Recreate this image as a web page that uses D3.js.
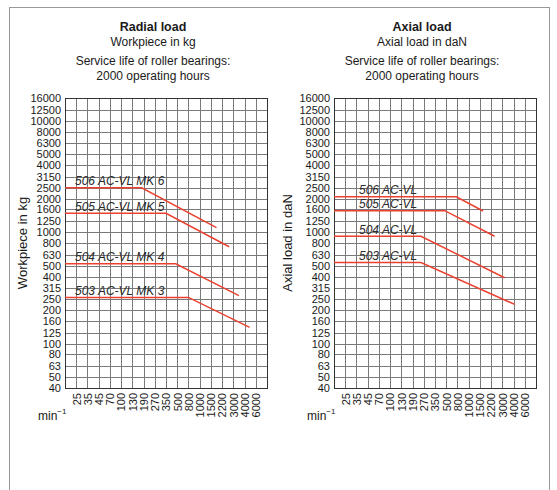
<!DOCTYPE html>
<html>
<head>
<meta charset="utf-8">
<script src="https://cdn.jsdelivr.net/npm/d3@7"></script>
<style>
  body { margin: 0; background: #fff; }
  svg { font-family: "Liberation Sans", Arial, sans-serif; }
</style>
</head>
<body>
<svg width="557" height="490"></svg>
<script>
// load ticks (R10 series) and speed ticks in min-1
const yTicks = [40, 50, 63, 80, 100, 125, 160, 200, 250, 315, 400, 500, 630, 800,
    1000, 1250, 1600, 2000, 2500, 3150, 4000, 5000, 6300, 8000, 10000, 12500, 16000];
const xTicks = [25, 35, 45, 70, 100, 130, 190, 270, 350, 500, 800, 1000, 1500, 2200, 3000, 4000, 6000];
const xMin = 15, xMax = 8000;

const radialNames = ["506 AC-VL MK 6", "505 AC-VL MK 5", "504 AC-VL MK 4", "503 AC-VL MK 3"];
const radialPoints = [
    [[15, 2500], [180, 2500], [1850, 1100]],
    [[15, 1480], [350, 1480], [2700, 740]],
    [[15, 520], [480, 520], [3500, 270]],
    [[15, 260], [800, 260], [4900, 140]]
];

const axialNames = ["506 AC-VL", "505 AC-VL", "504 AC-VL", "503 AC-VL"];
const axialPoints = [
    [[15, 2080], [770, 2080], [1700, 1550]],
    [[15, 1560], [480, 1560], [2450, 920]],
    [[15, 920], [250, 920], [3200, 390]],
    [[15, 535], [250, 535], [4200, 225]]
];

const svg = d3.select("svg");

// outer frame
svg.append("rect")
    .attr("x", 9.5).attr("y", 7.5)
    .attr("width", 540).attr("height", 520)
    .attr("fill", "none").attr("stroke", "#999").attr("stroke-width", 1);

const plotTop = 98, plotW = 202, plotH = 290;
const red = "#ec4130";

const panels = [
    { left: 65, title: "Radial load", sub: "Workpiece in kg", yTitle: "Workpiece in kg",
      yTitleX: 27, labelDx: 10, names: radialNames, points: radialPoints },
    { left: 334, title: "Axial load", sub: "Axial load in daN", yTitle: "Axial load in daN",
      yTitleX: 292, labelDx: 25, names: axialNames, points: axialPoints }
];

const y = d3.scaleLog().domain([40, 16000]).range([plotH, 0]);
const xDomain = [xMin, ...xTicks, xMax];
const x = d3.scaleLinear()
    .domain(xDomain)
    .range(xDomain.map((d, i) => i * plotW / (xDomain.length - 1)));

panels.forEach(p => {
    const cx = p.left + plotW / 2 - 13;
    const head = svg.append("g").attr("text-anchor", "middle").attr("fill", "#1a1a1a");
    head.append("text").attr("x", cx).attr("y", 31)
        .attr("font-size", 12.5).attr("font-weight", "bold").text(p.title);
    head.append("text").attr("x", cx).attr("y", 46).attr("font-size", 12).text(p.sub);
    head.append("text").attr("x", cx).attr("y", 64.5).attr("font-size", 12)
        .text("Service life of roller bearings:");
    head.append("text").attr("x", cx).attr("y", 79.5).attr("font-size", 12)
        .text("2000 operating hours");

    const g = svg.append("g").attr("transform", `translate(${p.left},${plotTop})`);

    // horizontal grid + load labels
    const ya = g.append("g")
        .call(d3.axisLeft(y).tickValues(yTicks).tickFormat(d3.format("d"))
            .tickSize(-plotW).tickPadding(4));
    ya.select(".domain").remove();
    ya.selectAll("line").attr("stroke", "#7a7a7a").attr("shape-rendering", "crispEdges");
    ya.selectAll("text").attr("font-size", 11).attr("fill", "#1a1a1a")
        .attr("font-family", "Liberation Sans, Arial, sans-serif");

    // vertical grid + speed labels
    const xa = g.append("g").attr("transform", `translate(0,${plotH})`)
        .call(d3.axisBottom(x).tickValues(xTicks).tickFormat(d3.format("d"))
            .tickSize(-plotH));
    xa.select(".domain").remove();
    xa.selectAll("line").attr("stroke", "#7a7a7a").attr("shape-rendering", "crispEdges");
    xa.selectAll("text")
        .attr("font-size", 11).attr("fill", "#1a1a1a")
        .attr("font-family", "Liberation Sans, Arial, sans-serif")
        .attr("transform", "rotate(-90)")
        .attr("x", -5).attr("y", 0).attr("dy", "0.35em")
        .attr("text-anchor", "end");

    g.append("rect").attr("width", plotW).attr("height", plotH)
        .attr("fill", "none").attr("stroke", "#333").attr("stroke-width", 1)
        .attr("shape-rendering", "crispEdges");

    const line = d3.line().x(d => x(d[0])).y(d => y(d[1]));
    g.selectAll(".curve").data(p.points).enter()
        .append("path").attr("class", "curve")
        .attr("d", line)
        .attr("fill", "none").attr("stroke", red).attr("stroke-width", 1.5);

    g.selectAll(".lbl").data(p.points).enter()
        .append("text").attr("class", "lbl")
        .attr("x", p.labelDx)
        .attr("y", d => y(d[0][1]) - 2.5)
        .attr("font-size", 12).attr("font-style", "italic").attr("fill", "#2a2a2a")
        .text((d, i) => p.names[i]);

    svg.append("text")
        .attr("transform", `translate(${p.yTitleX},${plotTop + plotH / 2}) rotate(-90)`)
        .attr("text-anchor", "middle").attr("font-size", 13).attr("fill", "#1a1a1a")
        .text(p.yTitle);

    const unit = svg.append("text").attr("x", p.left - 27).attr("y", 420)
        .attr("font-size", 12).attr("fill", "#1a1a1a");
    unit.append("tspan").text("min");
    unit.append("tspan").attr("font-size", 8).attr("dy", -6).text("−1");
});
</script>
</body>
</html>
